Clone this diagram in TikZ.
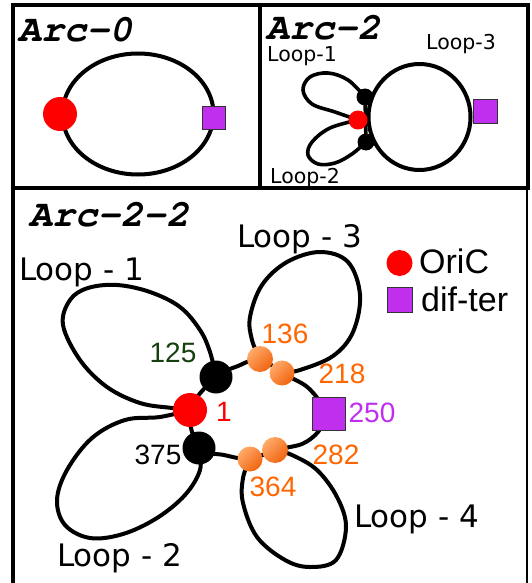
\documentclass[tikz,border=0pt]{standalone}
\usepackage[T1]{fontenc}
\usepackage{fontspec}
\newfontfamily\loopfont{DejaVu Sans}
\newfontfamily\numfont{Liberation Sans}
\newcommand\arctitlefont{\fontencoding{T1}\fontfamily{pcr}\fontseries{b}\fontshape{sl}\selectfont}
\definecolor{oriRed}{RGB}{255,0,0}
\definecolor{terPurple}{RGB}{192,46,238}
\definecolor{posOrange}{RGB}{255,102,0}
\definecolor{posGreen}{RGB}{22,64,14}
\definecolor{dotLight}{RGB}{255,170,105}
\definecolor{dotDark}{RGB}{240,100,15}
\begin{document}
\begin{tikzpicture}[x=1pt,y=-1pt,
  panelframe/.style={line width=3.6pt},
  strand/.style={line width=4pt, line join=round, line cap=round},
  smallstrand/.style={line width=3.6pt, line join=round, line cap=round},
  oridot/.style={circle, fill=oriRed, inner sep=0pt, minimum size=#1},
  blackdot/.style={circle, fill=black, inner sep=0pt, minimum size=#1},
  siteball/.style={circle, inner sep=0pt, minimum size=#1,
    top color=dotLight, bottom color=dotDark, shading angle=45},
  terbox/.style={rectangle, fill=terPurple, draw=black!80, line width=0.9pt,
    inner sep=0pt, minimum size=#1},
  titletext/.style={anchor=base west, inner sep=0pt,
    font=\arctitlefont\fontsize{38}{40}\selectfont},
  smallloop/.style={anchor=base west, inner sep=0pt,
    font=\loopfont\fontsize{20.5}{24}\selectfont},
  bigloop/.style={anchor=base west, inner sep=0pt,
    font=\loopfont\fontsize{31}{36}\selectfont},
  poslabel/.style={inner sep=0pt, font=\numfont\fontsize{28}{32}\selectfont},
  legendtext/.style={anchor=base west, inner sep=0pt,
    font=\numfont\fontsize{34}{38}\selectfont}
]
\useasboundingbox (0,0) rectangle (531,583);
\fill[white] (0,0) rectangle (531,583);

% ---------- panel frames ----------
\draw[panelframe] (13,5) rectangle (260,188);
\draw[panelframe] (260,5) rectangle (528,188);
\draw[panelframe] (13,188) -- (13,600);
\draw[line width=2.6pt] (527,188) -- (527,600);

% ---------- Arc-0 ----------
\node[titletext] (t0) at (18,42) {Arc-0};
\draw[strand] (138,114) ellipse [x radius=75.5pt, y radius=60.5pt];
\node[oridot=34pt] (a0ori) at (60,114) {};
\node[terbox=23pt] (a0ter) at (214,118) {};

% ---------- Arc-2 ----------
\node[titletext] (t2) at (266,40) {Arc-2};
\coordinate (q1) at (358,120);
\coordinate (qa) at (365,97);
\coordinate (qb) at (366,142);
\draw[strand] (419.5,117) ellipse [x radius=51pt, y radius=53pt];
\draw[smallstrand] plot[smooth, tension=0.6] coordinates
  {(q1) (335,112) (312,104) (303,90) (310,77) (328,73) (348,80) (qa)};
\draw[smallstrand] plot[smooth, tension=0.6] coordinates
  {(q1) (330,128) (312,142) (308,155) (318,164) (335,163) (352,154) (qb)};
\draw[smallstrand] (qa) -- (qb);
\node[blackdot=17pt] (a2up) at (qa) {};
\node[blackdot=17pt] (a2dn) at (qb) {};
\node[oridot=19pt] (a2ori) at (q1) {};
\node[terbox=24pt] (a2ter) at (485,111.5) {};
\node[smallloop] (l21) at (267,62) {Loop-1};
\node[smallloop] (l23) at (426,50) {Loop-3};
\node[smallloop] (l22) at (270,183) {Loop-2};

% ---------- Arc-2-2 ----------
\node[titletext] (t22) at (29,226) {Arc-2-2};
\coordinate (p1) at (190,410);
\coordinate (p125) at (216,377);
\coordinate (p136) at (260,359);
\coordinate (p218) at (282,373);
\coordinate (p250) at (329,414);
\coordinate (p282) at (275,450);
\coordinate (p364) at (250,459);
\coordinate (p375) at (199,448);

% central ring
\draw[strand] plot[smooth cycle, tension=0.55] coordinates
  {(p1) (p125) (238,366) (p136) (p218) (306,386) (320,402) (325,416)
   (318,432) (302,444) (p282) (p364) (224,455) (p375)};
% Loop - 1
\draw[strand] plot[smooth, tension=0.6] coordinates
  {(p1) (172,408) (140,403) (107,387) (80,360) (63,325) (70,300) (88,288)
   (117,285) (150,292) (180,307) (200,330) (210,352) (p125)};
% Loop - 2
\draw[strand] plot[smooth, tension=0.6] coordinates
  {(p1) (160,417) (125,420) (92,438) (67,470) (57,500) (65,525) (90,538)
   (123,534) (157,518) (185,495) (200,470) (p375)};
% Loop - 3
\draw[strand] plot[smooth, tension=0.6] coordinates
  {(p136) (252,340) (250,317) (262,285) (287,262) (320,252) (348,262)
   (360,295) (353,332) (333,356) (300,370) (p218)};
% Loop - 4
\draw[strand] plot[smooth, tension=0.6] coordinates
  {(p364) (243,478) (243,503) (257,537) (285,560) (310,567) (336,560)
   (346,527) (337,497) (317,470) (292,455) (p282)};

% marked positions
\node[blackdot=33pt] (d125) at (p125) {};
\node[blackdot=33pt] (d375) at (p375) {};
\node[oridot=34pt] (d1) at (p1) {};
\node[siteball=26pt] (d136) at (p136) {};
\node[siteball=25pt] (d218) at (p218) {};
\node[siteball=26pt] (d282) at (p282) {};
\node[siteball=25pt] (d364) at (p364) {};
\node[terbox=33pt] (d250) at (p250) {};

% position labels
\node[poslabel, text=posGreen] (n125) at (173,353) {125};
\node[poslabel, text=posOrange] (n136) at (285,334) {136};
\node[poslabel, text=posOrange] (n218) at (342,374) {218};
\node[poslabel, text=oriRed] (n1) at (224,412) {1};
\node[poslabel, text=terPurple] (n250) at (372,413) {250};
\node[poslabel, text=black] (n375) at (158,455) {375};
\node[poslabel, text=posOrange] (n282) at (336,455) {282};
\node[poslabel, text=posOrange] (n364) at (273,487) {364};

% loop names
\node[bigloop] (l1) at (19,280) {Loop - 1};
\node[bigloop] (l3) at (237,247) {Loop - 3};
\node[bigloop] (l4) at (354,527) {Loop - 4};
\node[bigloop] (l2) at (57,566) {Loop - 2};

% legend
\node[oridot=26pt] (kori) at (399.5,263) {};
\node[legendtext] (kori-t) at (419,273) {OriC};
\node[terbox=25pt] (kter) at (399.5,299.5) {};
\node[legendtext] (kter-t) at (421,311) {dif-ter};
\end{tikzpicture}
\end{document}
